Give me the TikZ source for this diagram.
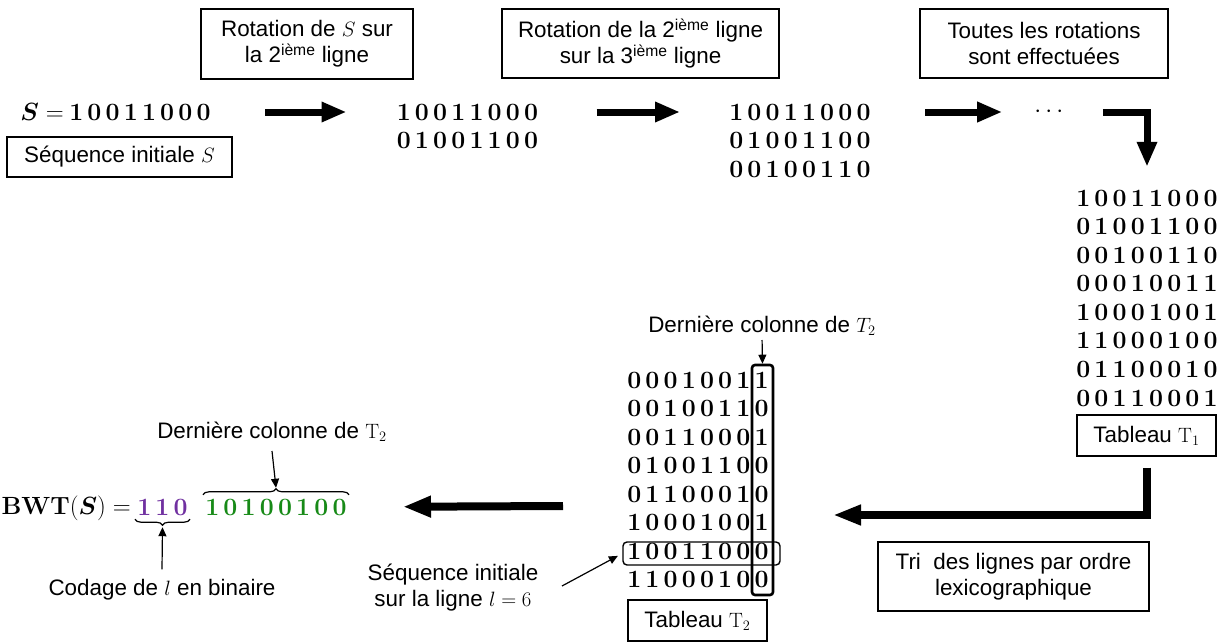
\documentclass[tikz,border=0pt]{standalone}
\usepackage{amsmath,amssymb}
\usepackage{bm}
\usepackage[no-math]{fontspec}
\setmainfont{Liberation Sans}
\usepackage{tikz}
\usetikzlibrary{positioning, arrows.meta, decorations.pathreplacing}
\definecolor{bPurple}{HTML}{7030A0}
\definecolor{bGreen}{HTML}{178A17}
\newcommand{\txtfont}{\fontsize{22.4}{26}\selectfont}
\newcommand{\bitfont}{\fontsize{23}{26}\selectfont}
\newcommand{\bitpitch}{18.2pt}
\def\bitsloop#1{\ifx#1\relax\else\makebox[\bitpitch]{$\mathbf{#1}$}\expandafter\bitsloop\fi}
\newcommand{\bits}[1]{\expandafter\bitsloop#1\relax}
\tikzset{
  capbox/.style={draw, line width=1.1pt, align=center, inner sep=0pt, font=\txtfont},
  txtlbl/.style={inner sep=0pt, align=center, font=\txtfont},
  bitrow/.style={inner sep=0pt, font=\bitfont},
  bigarrow/.style={line width=7pt, line join=miter, -{Triangle[length=25pt,width=19pt]}},
  pointer/.style={line width=1.2pt, -{Triangle[length=9pt,width=8pt]}},
  hlbox/.style={draw, line width=1.4pt, rounded corners=4pt, inner sep=0pt},
  obrace/.style={decorate, decoration={brace, amplitude=6pt}, line width=1.2pt},
  ubrace/.style={decorate, decoration={brace, mirror, amplitude=6pt}, line width=1.2pt}
}

\begin{document}
\begin{tikzpicture}[x=1pt, y=-1pt]
  \useasboundingbox (0,0) rectangle (1229,642);

  % top row: rotations
  \node[capbox, minimum width=212pt, minimum height=70pt] (rot1) at (307,44) {Rotation de $S$ sur\\la 2\textsuperscript{ième} ligne};
  \node[capbox, minimum width=277pt, minimum height=69pt] (rot2) at (640.5,43.5) {Rotation de la 2\textsuperscript{ième} ligne\\sur la 3\textsuperscript{ième} ligne};
  \node[capbox, minimum width=248pt, minimum height=69pt] (rot3) at (1044,43.5) {Toutes les rotations\\sont effectuées};

  \node[txtlbl, font=\bitfont, anchor=east] (sdef) at (64,112) {$\bm{S}=$};
  \node[bitrow] (sbits) at (140,112) {\bits{10011000}};
  \node[capbox, minimum width=225pt, minimum height=40pt] (seqS) at (119.5,157) {Séquence initiale $S$};

  \foreach \r [count=\i] in {10011000,01001100}
    \node[bitrow] (c2r\i) at (467.5,{112+28.5*(\i-1)}) {\bits{\r}};
  \foreach \r [count=\i] in {10011000,01001100,00100110}
    \node[bitrow] (c3r\i) at (800,{112+28.5*(\i-1)}) {\bits{\r}};
  \node[font=\fontsize{25}{26}\selectfont, inner sep=0pt] (dots) at (1051,112) {$\cdots$};

  \draw[bigarrow, shorten <=52pt, shorten >=48pt] (sbits.east) -- (c2r1.west);
  \draw[bigarrow, shorten <=56pt, shorten >=47pt] (c2r1.east) -- (c3r1.west);
  \draw[bigarrow, shorten <=52pt, shorten >=32pt] (c3r1.east) -- (dots.west);

  % tableau T1
  \foreach \r [count=\i] in {10011000,01001100,00100110,00010011,10001001,11000100,01100010,00110001}
    \node[bitrow] (t1r\i) at (1147,{198+28.57*(\i-1)}) {\bits{\r}};
  \node[capbox, minimum width=139pt, minimum height=41pt] (tab1) at (1146.5,435.5) {Tableau $\mathrm{T}_1$};
  \draw[bigarrow, shorten <=35pt, shorten >=23pt] (dots.east) -| (t1r1.north);

  % tri -> tableau T2
  \coordinate (sortend) at (833,515);
  \draw[bigarrow, line width=8pt, -{Triangle[length=28pt,width=19pt]}, shorten <=11pt] (tab1.south) |- (sortend);
  \node[capbox, minimum width=271pt, minimum height=69pt] (tri) at (1013.5,576.5) {Tri~ des lignes par ordre\\lexicographique};

  \foreach \r [count=\i] in {00010011,00100110,00110001,01001100,01100010,10001001,10011000,11000100}
    \node[bitrow] (t2r\i) at (698,{380+28.5*(\i-1)}) {\bits{\r}};
  \node[capbox, minimum width=139pt, minimum height=41pt] (tab2) at (697.5,620.5) {Tableau $\mathrm{T}_2$};
  \node[hlbox, minimum width=157pt, minimum height=23pt] (l6) at (701.5,553.5) {};
  \node[hlbox, line width=2.6pt, rounded corners=3pt, minimum width=21pt, minimum height=230pt] (lastcol) at (762.5,480) {};

  \node[txtlbl] (dc2) at (762,326) {Dernière colonne de $T_2$};
  \draw[pointer, shorten <=4pt] (dc2.south) -- (lastcol.north);

  \node[txtlbl] (seql) at (453,588) {Séquence initiale\\sur la ligne $l=6$};
  \coordinate (seqtail) at (562,586);
  \draw[pointer, shorten >=5pt] (seqtail) -- (l6.west);

  % BWT result
  \node[txtlbl, font=\fontsize{24}{26}\selectfont, anchor=base east] (bwt) at (131,514) {$\mathbf{BWT}(\bm{S}) =$};
  \node[bitrow, text=bPurple] (pur) at (162.5,507) {\bits{110}};
  \node[bitrow, text=bGreen] (grn) at (276,507) {\bits{10100100}};

  \coordinate (bwtin) at (563,506);
  \draw[bigarrow, line width=8pt, -{Triangle[length=28pt,width=20pt]}, shorten >=54pt] (bwtin) -- (grn.east);

  \draw[ubrace] ([yshift=-4pt]pur.south west) -- ([yshift=-4pt]pur.south east);
  \draw[obrace] ([yshift=4pt]grn.north west) -- ([yshift=4pt]grn.north east);

  \node[txtlbl] (cod) at (162,590) {Codage de $l$ en binaire};
  \draw[pointer] ([yshift=10pt]cod.north) -- ([yshift=-12pt]pur.south);
  \node[txtlbl] (dcb) at (272,432) {Dernière colonne de $\mathrm{T}_2$};
  \draw[pointer] ([yshift=-9pt]dcb.south) -- ([yshift=11pt]grn.north);
\end{tikzpicture}
\end{document}
